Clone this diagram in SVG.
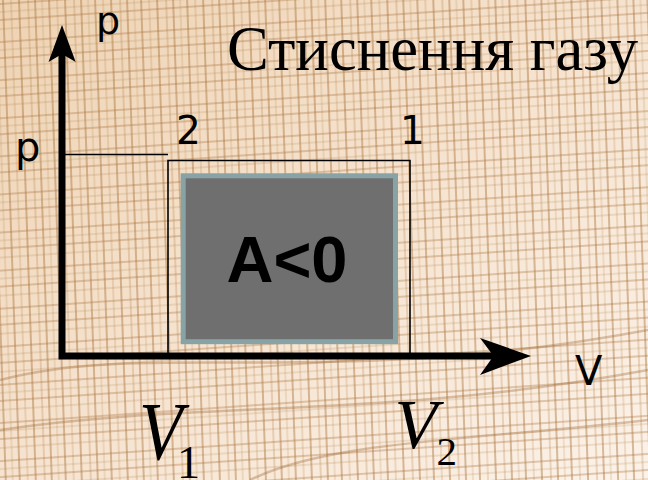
<svg xmlns="http://www.w3.org/2000/svg" width="648" height="480" viewBox="0 0 648 480">
  <defs>
    <linearGradient id="paper" x1="0" y1="0" x2="1" y2="1">
      <stop offset="0" stop-color="#eed3b3"/>
      <stop offset="0.5" stop-color="#f6e3cf"/>
      <stop offset="1" stop-color="#fcf2e8"/>
    </linearGradient>
    <pattern id="gridV" width="46" height="480" patternUnits="userSpaceOnUse" patternTransform="rotate(-2)">
      <g stroke="#a8743c" fill="none">
        <line x1="3" y1="0" x2="3" y2="480" stroke-width="1.6" stroke-opacity="0.55"/>
        <line x1="11" y1="0" x2="11" y2="480" stroke-width="1.1" stroke-opacity="0.35"/>
        <line x1="19" y1="0" x2="19" y2="480" stroke-width="1.8" stroke-opacity="0.5"/>
        <line x1="28" y1="0" x2="28" y2="480" stroke-width="1.2" stroke-opacity="0.4"/>
        <line x1="35" y1="0" x2="35" y2="480" stroke-width="1.6" stroke-opacity="0.55"/>
        <line x1="42" y1="0" x2="42" y2="480" stroke-width="1" stroke-opacity="0.3"/>
      </g>
    </pattern>
    <pattern id="gridH" width="648" height="38" patternUnits="userSpaceOnUse" patternTransform="rotate(-4)">
      <g stroke="#a8743c" fill="none">
        <line x1="0" y1="4" x2="648" y2="4" stroke-width="1.5" stroke-opacity="0.45"/>
        <line x1="0" y1="12" x2="648" y2="12" stroke-width="1" stroke-opacity="0.3"/>
        <line x1="0" y1="20" x2="648" y2="20" stroke-width="1.6" stroke-opacity="0.45"/>
        <line x1="0" y1="29" x2="648" y2="29" stroke-width="1.1" stroke-opacity="0.35"/>
      </g>
    </pattern>
    <style>
      .axis { stroke: #000; stroke-width: 7; fill: none; stroke-linejoin: miter; }
      .thin { stroke: #000; stroke-width: 1.6; fill: none; }
      .lbl { font-family: "DejaVu Sans", Verdana, sans-serif; fill: #000; }
      .ser { font-family: "Liberation Serif", "Times New Roman", serif; fill: #000; }
    </style>
  </defs>

  <g id="background">
    <rect x="0" y="0" width="648" height="480" fill="url(#paper)"/>
    <rect x="-20" y="-20" width="700" height="520" fill="url(#gridV)"/>
    <rect x="-20" y="-20" width="700" height="520" fill="url(#gridH)"/>
    <g fill="none" stroke="#9a6530" stroke-opacity="0.35" stroke-width="2.5">
      <path d="M0,380 C150,340 330,390 648,330"/>
      <path d="M0,430 C200,400 380,420 648,370"/>
      <path d="M250,480 C330,440 480,440 648,420"/>
    </g>
  </g>

  <g id="title">
    <text class="ser" x="227" y="70" font-size="64" textLength="411" lengthAdjust="spacingAndGlyphs">Стиснення газу</text>
  </g>

  <g id="work-area">
    <rect x="183.2" y="175.8" width="212.3" height="165.9" fill="#6f6f6f" stroke="#87a3a5" stroke-width="5"/>
    <text x="287" y="282" font-family="'Liberation Sans', Arial, sans-serif" font-weight="bold" font-size="65" text-anchor="middle" fill="#000">A&lt;0</text>
  </g>

  <g id="process">
    <line class="thin" x1="62" y1="154.5" x2="168" y2="154.5"/>
    <polyline class="thin" points="168,356 168,160.5 410,160.5 410,356"/>
  </g>

  <g id="axes">
    <path class="axis" d="M62,54 V356 H494"/>
    <polygon points="62,25 48.5,62 62,54 75.7,62" fill="#000"/>
    <polygon points="531,356 480,338 493.5,356 480,375" fill="#000"/>
  </g>

  <g id="labels">
    <text class="lbl" x="96" y="34" font-size="38">p</text>
    <text class="lbl" x="15" y="161" font-size="40">p</text>
    <text class="lbl" x="176" y="144" font-size="39">2</text>
    <text class="lbl" x="400" y="144" font-size="39">1</text>
    <text class="lbl" x="575" y="385" font-size="40">V</text>
    <g id="V1">
      <text class="ser" font-style="italic" font-size="82" transform="translate(139,459) scale(0.87,1)">V</text>
      <text class="ser" x="177" y="478" font-size="46">1</text>
    </g>
    <g id="V2">
      <text class="ser" x="394.5" y="448" font-style="italic" font-size="70">V</text>
      <text class="ser" x="436.5" y="465" font-size="41">2</text>
    </g>
  </g>
</svg>
